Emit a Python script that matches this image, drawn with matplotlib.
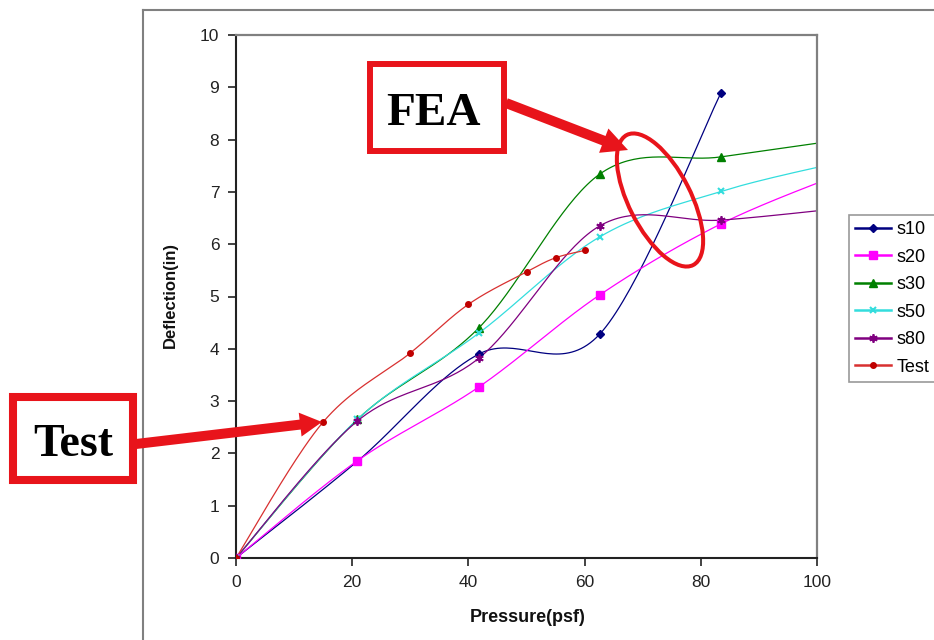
import numpy as np
import matplotlib.pyplot as plt
from matplotlib.patches import Ellipse, Rectangle, FancyArrow
from matplotlib.lines import Line2D
from matplotlib.transforms import Affine2D

W, H = 934, 640

# FEA load steps (1 kPa increments, in psf)
fea_pressure = [0, 20.9, 41.8, 62.6, 83.5, 104.4]
s10 = [0, 1.85, 3.90, 4.28, 8.90]
s20 = [0, 1.86, 3.27, 5.03, 6.39, 7.36]
s30 = [0, 2.65, 4.40, 7.34, 7.67, 8.00]
s50 = [0, 2.65, 4.30, 6.14, 7.01, 7.58]
s80 = [0, 2.62, 3.82, 6.35, 6.46, 6.69]

# measured test deflections
test_pressure = [0, 15, 30, 40, 50, 55, 60]
test_deflection = [0, 2.60, 3.92, 4.85, 5.47, 5.74, 5.88]

x_ticks = [0, 20, 40, 60, 80, 100]
y_ticks = list(range(0, 11))


def smooth(x, y, n=40):
    """Catmull-Rom curve through the points (like a spreadsheet 'smoothed line')."""
    p = np.column_stack([x, y]).astype(float)
    p = np.vstack([p[0], p, p[-1]])
    out = []
    t = np.linspace(0, 1, n)[:, None]
    for i in range(1, len(p) - 2):
        p0, p1, p2, p3 = p[i - 1], p[i], p[i + 1], p[i + 2]
        seg = 0.5 * ((2 * p1) + (-p0 + p2) * t
                     + (2 * p0 - 5 * p1 + 4 * p2 - p3) * t ** 2
                     + (-p0 + 3 * p1 - 3 * p2 + p3) * t ** 3)
        out.append(seg)
    c = np.vstack(out)
    return c[:, 0], c[:, 1]


plt.rcParams["font.family"] = ["Liberation Sans", "DejaVu Sans"]

fig = plt.figure(figsize=(W / 100, H / 100), dpi=100)
ax = fig.add_axes([236 / W, 1 - 558 / H, 581 / W, 523 / H])

series = [
    ("s10", fea_pressure[:5], s10, "#000080", "D", 4, 1.0),
    ("s20", fea_pressure, s20, "#FF00FF", "s", 5.5, 1.0),
    ("s30", fea_pressure, s30, "#008000", "^", 5.5, 1.0),
    ("s50", fea_pressure, s50, "#33DDDD", "x", 5, 1.5),
    ("s80", fea_pressure, s80, "#800080", (6, 2, 0), 6, 1.3),
    ("Test", test_pressure, test_deflection, "#C00000", "o", 4, 1.0),
]

handles = []
for name, xs, ys, color, marker, ms, mew in series:
    cx, cy = smooth(xs, ys)
    line_color = "#D83030" if name == "Test" else color
    ax.plot(cx, cy, color=line_color, lw=0.9, zorder=2)
    ax.plot(xs, ys, ls="none", marker=marker, ms=ms, mew=mew,
            color=color, mec=color, zorder=3)
    handles.append(Line2D([], [], color=line_color, lw=1.8, marker=marker,
                          ms=ms, mew=mew, mfc=color, mec=color))

ax.set_xlim(0, 100)
ax.set_ylim(0, 10)
ax.set_xticks(x_ticks)
ax.set_yticks(y_ticks)
ax.tick_params(direction="out", length=6, width=1.2, labelsize=12.5,
               colors="#222222", pad=6)
for side in ("left", "bottom"):
    ax.spines[side].set_color("#222222")
    ax.spines[side].set_linewidth(1.5)
for side in ("top", "right"):
    ax.spines[side].set_color("#808080")
    ax.spines[side].set_linewidth(1.6)

fig.text(170 / W, 1 - 295 / H, "Deflection(in)", rotation=90, ha="center",
         va="center", fontsize=12, fontweight="bold", color="#111111")
fig.text(528 / W, 1 - 617 / H, "Pressure(psf)", ha="center", va="center",
         fontsize=13, fontweight="bold", color="#111111")

leg = ax.legend(handles, [s[0] for s in series], loc="upper left",
                bbox_to_anchor=(849 / W, 1 - 215 / H),
                bbox_transform=fig.transFigure, fontsize=13, frameon=True,
                fancybox=False, handlelength=2.0, handletextpad=0.3,
                labelspacing=0.58, borderpad=0.35, borderaxespad=0)
leg.get_frame().set_edgecolor("#808080")
leg.get_frame().set_linewidth(1.2)

# pixel coordinates, origin top-left
px = Affine2D().scale(1 / W, -1 / H).translate(0, 1) + fig.transFigure

# outer chart frame
fig.add_artist(Line2D([143, 934], [10, 10], transform=px, color="#808080", lw=1.5))
fig.add_artist(Line2D([143, 143], [10, 640], transform=px, color="#808080", lw=1.5))

red = "#E8141B"

# callout boxes
fig.add_artist(Rectangle((370, 64), 134, 87, transform=px, fill=False,
                         ec=red, lw=4.3, zorder=5))
fig.text(433 / W, 1 - 125 / H, "FEA", ha="center", va="baseline",
         fontsize=34, fontweight="bold", family="Liberation Serif", zorder=6)

fig.add_artist(Rectangle((13, 397), 120, 83, transform=px, fill=False,
                         ec=red, lw=5.8, zorder=5))
fig.text(73 / W, 1 - 456 / H, "Test", ha="center", va="baseline",
         fontsize=33, fontweight="bold", family="Liberation Serif", zorder=6)

# arrows
fig.add_artist(FancyArrow(506, 103, 122, 47, width=10, head_width=26,
                          head_length=26, length_includes_head=True,
                          transform=px, color=red, lw=0, zorder=5))
fig.add_artist(FancyArrow(136, 444, 186, -22, width=10, head_width=24,
                          head_length=22, length_includes_head=True,
                          transform=px, color=red, lw=0, zorder=5))

# highlight around the FEA curves
fig.add_artist(Ellipse((660, 200), 146, 62, angle=63, transform=px,
                       fill=False, ec=red, lw=2.9, zorder=5))

fig.savefig("out.png", dpi=100)
